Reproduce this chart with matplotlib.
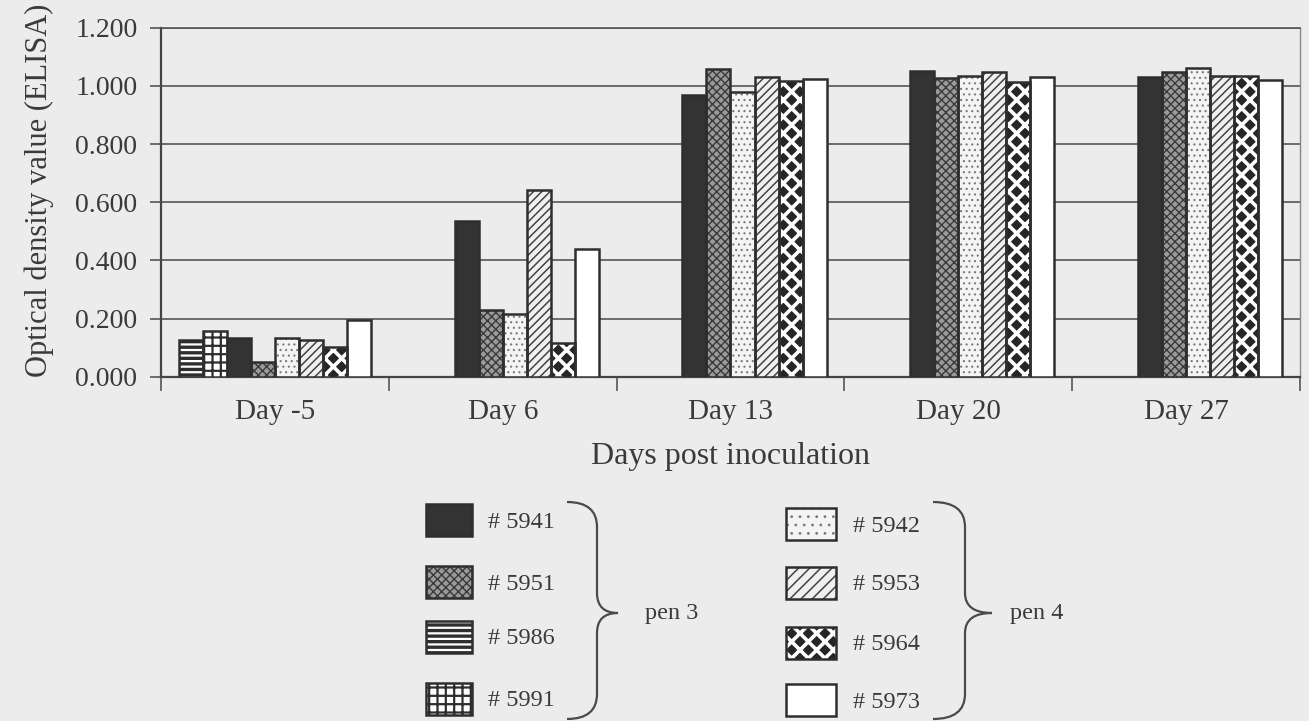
import matplotlib
matplotlib.use('Agg')
import matplotlib.pyplot as plt
import numpy as np
from matplotlib.patches import Rectangle, PathPatch
from matplotlib.path import Path

# ELISA optical density per pig, by day post inoculation
days = ['Day -5', 'Day 6', 'Day 13', 'Day 20', 'Day 27']
pigs = ['5986', '5991', '5941', '5951', '5942', '5953', '5964', '5973']
nan = np.nan
od_5986 = [0.127, nan, nan, nan, nan]
od_5991 = [0.156, nan, nan, nan, nan]
od_5941 = [0.134, 0.534, 0.967, 1.052, 1.029]
od_5951 = [0.052, 0.231, 1.059, 1.026, 1.049]
od_5942 = [0.134, 0.214, 0.979, 1.034, 1.060]
od_5953 = [0.125, 0.641, 1.032, 1.047, 1.033]
od_5964 = [0.102, 0.115, 1.018, 1.014, 1.033]
od_5973 = [0.195, 0.440, 1.024, 1.032, 1.020]
values = [od_5986, od_5991, od_5941, od_5951, od_5942, od_5953, od_5964, od_5973]

# legend groups
pen3 = ['5941', '5951', '5986', '5991']
pen4 = ['5942', '5953', '5964', '5973']

BG = '#ececec'
INK = '#3a3a3a'
DARK = '#2e2e2e'

# fill style for every pig: face, hatch, hatch colour, hatch linewidth
styles = {
    '5941': dict(face='#333333', hatch=None, hc=DARK, hlw=1.0),
    '5951': dict(face='#9a9a9a', hatch='xxxx', hc='#3a3a3a', hlw=1.0),
    '5986': dict(face='white', hatch='---', hc=DARK, hlw=2.4),
    '5991': dict(face='white', hatch='++', hc=DARK, hlw=1.6),
    '5942': dict(face='#f4f4f4', hatch='...', hc='#7a7a7a', hlw=0.8),
    '5953': dict(face='#f0f0f0', hatch='////', hc='#444444', hlw=1.1),
    '5964': dict(face='#262626', hatch='xx', hc='white', hlw=2.6),
    '5973': dict(face='white', hatch=None, hc=DARK, hlw=1.0),
}
# the legend swatches are drawn a little coarser than the bars
legend_hatch = {'5942': '..', '5953': '///'}

plt.rcParams['font.family'] = ['Liberation Serif', 'DejaVu Serif']


def styled_patch_kw(pig, hatch=None):
    s = styles[pig]
    return dict(facecolor=s['face'], hatch=hatch or s['hatch'], edgecolor=s['hc'], linewidth=0)


def apply_hatch_lw(patches, lw):
    for p in patches:
        if hasattr(p, 'set_hatch_linewidth'):
            p.set_hatch_linewidth(lw)


fig = plt.figure(figsize=(13.09, 7.21), dpi=100, facecolor=BG)
ax = fig.add_axes([0.1230, 0.4775, 0.8701, 0.4841], facecolor=BG)

x = np.arange(len(days))
width = 0.1055
n = len(pigs)

for i, (pig, vals) in enumerate(zip(pigs, values)):
    pos = x + (i - (n - 1) / 2) * width
    with plt.rc_context({'hatch.linewidth': styles[pig]['hlw']}):
        fill = ax.bar(pos, vals, width, zorder=3, **styled_patch_kw(pig))
    apply_hatch_lw(fill, styles[pig]['hlw'])
    # outline drawn on top so hatch colour can differ from edge colour
    ax.bar(pos, vals, width, fill=False, edgecolor=DARK, linewidth=1.8, zorder=4)

ax.set_ylim(0, 1.2)
ax.set_xlim(-0.5, len(days) - 0.5)
ax.set_yticks(np.arange(0, 1.21, 0.2))
ax.set_yticklabels(['%.3f' % v for v in np.arange(0, 1.21, 0.2)], fontsize=20, color=INK)
ax.yaxis.grid(True, color='#555555', linewidth=1.2, zorder=0)
ax.tick_params(axis='y', length=8, width=1.2, color='#555555', pad=9)

ax.set_xticks(x)
ax.set_xticklabels(days, fontsize=21, color=INK)
ax.set_xticks(np.arange(-0.5, len(days)), minor=True)
ax.tick_params(axis='x', which='major', length=0, pad=16)
ax.tick_params(axis='x', which='minor', length=10, width=1.2, color='#555555')

for side in ['left', 'bottom']:
    ax.spines[side].set_color('#444444')
    ax.spines[side].set_linewidth(1.6)
ax.spines['top'].set_color('#555555')
ax.spines['top'].set_linewidth(1.2)
ax.spines['right'].set_color('#888888')
ax.spines['right'].set_linewidth(1.0)

ax.set_xlabel('Days post inoculation', fontsize=23, color=INK, labelpad=12)
ax.set_ylabel('Optical density value (ELISA)', fontsize=22, color=INK)
ax.yaxis.set_label_coords(-0.094, 0.535)

# legend drawn by hand in pixel coordinates (y grows downwards)
lg = fig.add_axes([0, 0, 1, 1], facecolor='none')
lg.set_xlim(0, 1309)
lg.set_ylim(721, 0)
lg.axis('off')


def legend_column(names, box_x, box_w, box_tops, box_h, text_x):
    for name, top in zip(names, box_tops):
        s = styles[name]
        with plt.rc_context({'hatch.linewidth': s['hlw']}):
            r = Rectangle((box_x, top), box_w, box_h,
                          **styled_patch_kw(name, legend_hatch.get(name)))
        apply_hatch_lw([r], s['hlw'])
        lg.add_patch(r)
        lg.add_patch(Rectangle((box_x, top), box_w, box_h, fill=False,
                               edgecolor=DARK, linewidth=1.8))
        lg.text(text_x, top + box_h / 2 + 2, '# ' + name, fontsize=17.5,
                color=INK, va='center', ha='left')


def brace(x0, xv, tip, y0, y1, ym, label, label_x):
    verts = [(x0, y0), (xv, y0), (xv, y0 + 25),
             (xv, ym - 20),
             (xv, ym), (tip, ym),
             (xv, ym), (xv, ym + 20),
             (xv, y1 - 25),
             (xv, y1), (x0, y1)]
    codes = [Path.MOVETO, Path.CURVE3, Path.CURVE3,
             Path.LINETO,
             Path.CURVE3, Path.CURVE3,
             Path.CURVE3, Path.CURVE3,
             Path.LINETO,
             Path.CURVE3, Path.CURVE3]
    lg.add_patch(PathPatch(Path(verts, codes), fill=False, edgecolor='#4a4a4a', linewidth=1.6))
    lg.text(label_x, ym, label, fontsize=17.5, color=INK, va='center', ha='left')


legend_column(pen3, 426, 46, [504, 566, 621, 683], 32, 488)
legend_column(pen4, 786, 50, [508, 567, 627, 684], 32, 853)
brace(567, 597, 618, 502, 719, 613, 'pen 3', 645)
brace(933, 965, 992, 502, 719, 613, 'pen 4', 1010)

fig.savefig('out.png', dpi=100, facecolor=BG)
